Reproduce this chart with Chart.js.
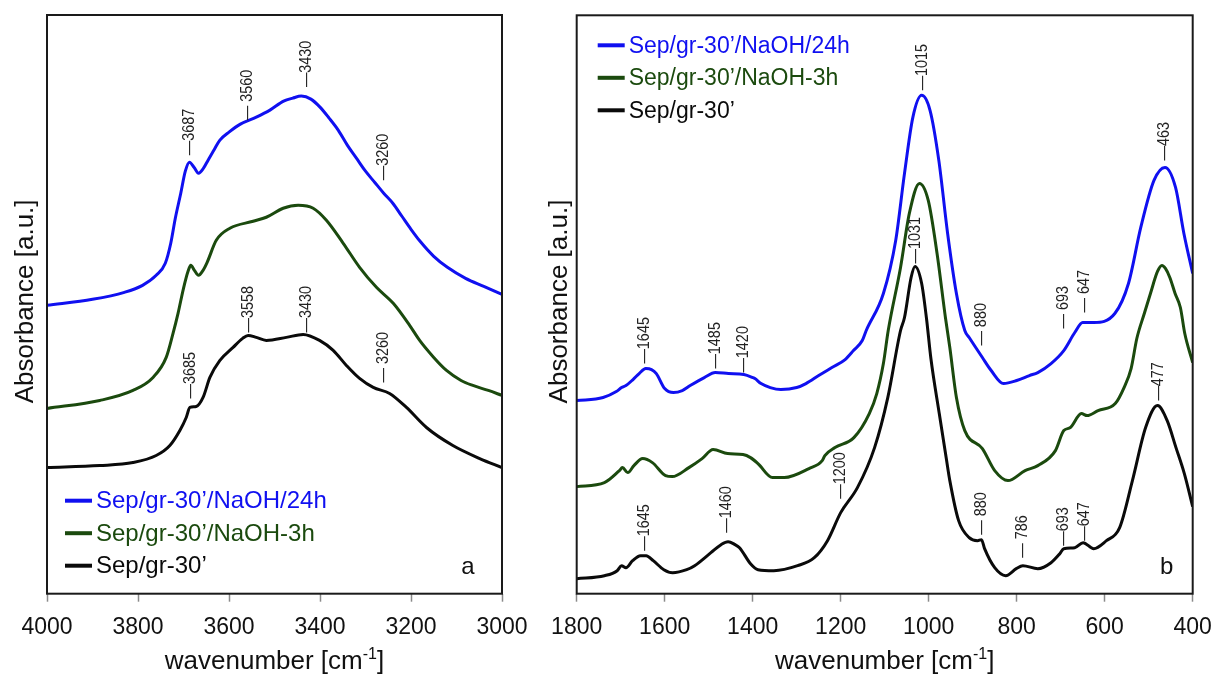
<!DOCTYPE html>
<html>
<head>
<meta charset="utf-8">
<script src="https://cdn.jsdelivr.net/npm/chart.js@4.4.1/dist/chart.umd.min.js"></script>
<style>
  body { margin: 0; background: #fff; overflow: hidden; }
  #wrap { position: relative; width: 1214px; height: 675px; }
  .panel { position: absolute; top: 0; height: 675px; }
</style>
</head>
<body>
<div id="wrap">
  <div class="panel" style="left:0;width:540px"><canvas id="chartA"></canvas></div>
  <div class="panel" style="left:540px;width:674px"><canvas id="chartB"></canvas></div>
</div>
<script>
// FTIR spectra, [wavenumber, absorbance (a.u., offset for stacking)]
// panel a: OH stretching region
const ohNaOH24h = [[4000,28.8],[3900,29.4],[3830,30.1],[3790,30.8],[3760,31.8],[3740,33.0],[3728,35.0],[3718,37.5],[3706,40.0],[3696,42.2],[3687,43.1],[3677,42.6],[3667,42.0],[3656,42.5],[3646,43.3],[3632,44.4],[3620,45.3],[3600,46.1],[3575,46.9],[3540,47.6],[3510,48.3],[3480,49.2],[3460,49.5],[3441,49.7],[3420,49.4],[3400,48.6],[3380,47.5],[3360,46.3],[3340,44.8],[3320,43.5],[3300,42.2],[3280,41.1],[3260,40.0],[3240,39.0],[3220,37.7],[3200,36.4],[3180,35.2],[3150,33.7],[3120,32.6],[3080,31.5],[3040,30.7],[3000,29.9]];
const ohNaOH3h = [[4000,18.5],[3884,19.3],[3811,20.3],[3767,21.6],[3738,23.6],[3723,26.0],[3712,28.0],[3700,30.5],[3690,32.2],[3684,32.8],[3676,32.3],[3667,31.8],[3657,32.3],[3648,33.1],[3628,35.3],[3598,36.5],[3547,37.2],[3518,37.6],[3481,38.5],[3448,38.8],[3415,38.5],[3386,37.3],[3349,35.0],[3313,32.6],[3276,30.6],[3239,29.0],[3203,26.8],[3181,25.3],[3150,23.6],[3122,22.3],[3090,21.3],[3064,20.8],[3030,20.3],[3000,19.8]];
const ohSepGr = [[4000,12.6],[3884,12.8],[3811,13.1],[3760,13.8],[3730,14.8],[3708,16.3],[3694,17.6],[3686,18.6],[3672,18.7],[3657,19.6],[3642,21.6],[3620,23.3],[3591,24.6],[3570,25.5],[3558,25.8],[3540,25.6],[3518,25.3],[3474,25.6],[3437,25.9],[3401,25.3],[3371,24.3],[3342,22.8],[3313,21.5],[3283,20.6],[3247,20.0],[3210,18.6],[3166,16.6],[3108,14.8],[3049,13.5],[3000,12.6]];

// panel b: 1800-400 region
const fpNaOH24h = [[1800,19.3],[1740,19.6],[1710,20.2],[1698,20.6],[1688,20.8],[1672,21.4],[1658,22.0],[1643,22.5],[1630,22.4],[1619,22.0],[1600,20.5],[1580,20.1],[1560,20.3],[1542,20.8],[1510,21.6],[1485,22.1],[1455,22.0],[1420,21.9],[1400,21.6],[1395,21.5],[1381,21.0],[1360,20.6],[1336,20.4],[1300,20.6],[1279,21.0],[1250,21.8],[1220,22.6],[1190,23.4],[1171,24.3],[1151,25.3],[1142,26.3],[1103,30.0],[1075,35.3],[1055,42.0],[1036,47.6],[1016,49.8],[997,48.3],[977,43.3],[957,36.0],[937,30.0],[918,26.3],[908,25.6],[878,23.6],[858,22.3],[830,21.0],[800,21.3],[771,21.8],[752,22.1],[722,23.0],[693,24.3],[668,26.1],[650,27.1],[625,27.1],[577,28.0],[546,31.0],[518,36.6],[488,41.3],[463,42.6],[439,40.6],[420,36.0],[400,32.0]];
const fpNaOH3h = [[1800,10.7],[1737,11.1],[1703,12.3],[1696,12.6],[1684,12.1],[1670,12.8],[1650,13.5],[1628,13.1],[1598,11.8],[1583,11.7],[1545,12.6],[1515,13.5],[1490,14.4],[1457,14.0],[1422,13.9],[1405,13.6],[1388,13.0],[1355,11.6],[1328,11.6],[1272,12.5],[1242,13.3],[1236,13.8],[1213,14.6],[1170,15.6],[1135,18.0],[1118,20.0],[1103,23.0],[1092,26.3],[1064,32.6],[1044,38.0],[1021,41.0],[1001,39.3],[981,34.0],[962,27.6],[952,24.6],[937,19.6],[918,16.3],[878,14.5],[850,12.3],[820,11.3],[781,12.3],[752,12.8],[712,14.3],[693,16.3],[678,16.6],[653,18.0],[640,17.8],[615,18.3],[576,19.0],[556,20.6],[540,22.5],[527,25.5],[510,28.0],[496,30.0],[480,32.2],[470,32.8],[462,32.5],[452,31.6],[440,30.0],[428,28.6],[418,26.0],[400,23.1]];
const fpSepGr = [[1800,1.5],[1737,1.8],[1708,2.3],[1698,2.8],[1688,2.6],[1673,3.3],[1655,3.8],[1642,3.8],[1626,3.3],[1602,2.4],[1582,2.1],[1550,2.4],[1532,2.8],[1495,4.1],[1472,4.9],[1456,5.2],[1440,4.9],[1430,4.6],[1405,3.0],[1388,2.4],[1352,2.3],[1298,2.8],[1260,3.6],[1230,5.3],[1200,8.1],[1162,10.6],[1123,14.6],[1093,19.6],[1064,26.3],[1055,27.6],[1040,31.6],[1031,32.7],[1016,31.0],[1005,27.5],[995,23.5],[976,18.0],[960,13.5],[952,11.3],[932,7.3],[908,5.6],[889,5.3],[880,5.4],[873,4.5],[850,2.6],[825,1.8],[801,2.5],[786,2.8],[752,2.5],[722,3.1],[702,4.0],[693,4.5],[668,4.6],[649,5.1],[625,4.5],[596,5.3],[566,6.6],[537,11.3],[507,16.6],[480,18.8],[458,17.3],[438,14.6],[419,12.0],[400,8.7]];

// band labels: [wavenumber, label level, space after dash]
const bandsA24h = [[3687,43.8,0],[3560,47.3,1],[3430,50.6,0],[3260,41.3,0]];
const bandsASep = [[3685,19.5,0],[3558,26.1,0],[3430,26.1,0],[3260,21.1,1]];
const bandsB24h = [[1645,23.0,0],[1485,22.5,0],[1420,22.1,0],[1015,50.3,0],[880,24.8,1],[693,26.5,1],[647,28.1,1],[463,43.3,0]];
const bandsBSep = [[1645,4.3,0],[1460,6.1,0],[1200,9.5,0],[1031,33.0,0],[880,5.9,1],[786,3.6,1],[693,4.8,0],[647,5.3,0],[477,19.3,0]];

const sampleNames = ["Sep/gr-30’/NaOH/24h", "Sep/gr-30’/NaOH-3h", "Sep/gr-30’"];
const sampleColors = ["#1010f0", "#1b4a0e", "#0a0a0a"];
const ticksA = [4000, 3800, 3600, 3400, 3200, 3000];
const ticksB = [1800, 1600, 1400, 1200, 1000, 800, 600, 400];

const FONT = '"Liberation Sans", Arial, sans-serif';

function drawDecor(chart, p) {
  const ctx = chart.ctx, a = chart.chartArea;
  const xs = chart.scales.x, ys = chart.scales.y;
  ctx.save();

  // frame round the plot
  ctx.strokeStyle = "#1a1a1a";
  ctx.lineWidth = 2;
  ctx.strokeRect(a.left, a.top, a.right - a.left, a.bottom - a.top);

  // rotated band positions
  ctx.fillStyle = "#222";
  ctx.font = "16px " + FONT;
  ctx.textAlign = "left";
  ctx.textBaseline = "alphabetic";
  p.bands.forEach(list => list.forEach(([wn, lvl, gap]) => {
    ctx.save();
    ctx.translate(xs.getPixelForValue(wn), ys.getPixelForValue(lvl));
    ctx.rotate(-Math.PI / 2);
    ctx.scale(0.9, 1);
    ctx.fillText("—" + (gap ? " " : "") + wn, 0, 4.5);
    ctx.restore();
  }));

  // legend
  ctx.font = p.legend.size + "px " + FONT;
  ctx.textBaseline = "middle";
  sampleNames.forEach((name, i) => {
    const x = a.left + p.legend.dx;
    const y = p.legend.top ? a.top + p.legend.dy + i * 32.5 : a.bottom - p.legend.dy + i * 32.5;
    ctx.strokeStyle = sampleColors[i];
    ctx.lineWidth = 4;
    ctx.beginPath();
    ctx.moveTo(x, y);
    ctx.lineTo(x + 27, y);
    ctx.stroke();
    ctx.fillStyle = sampleColors[i];
    ctx.fillText(name, x + 31, y + 1);
  });

  // panel letter
  ctx.fillStyle = "#111";
  ctx.font = "24px " + FONT;
  ctx.textAlign = "center";
  ctx.textBaseline = "alphabetic";
  ctx.fillText(p.letter, a.right - p.letterDx, a.bottom - 20);

  // x title with superscript
  const cx = (a.left + a.right) / 2, by = 669;
  ctx.font = "26px " + FONT;
  const w1 = ctx.measureText("wavenumber [cm").width;
  const w3 = ctx.measureText("]").width;
  ctx.font = "16px " + FONT;
  const w2 = ctx.measureText("-1").width;
  let x0 = cx - (w1 + w2 + w3) / 2;
  ctx.textAlign = "left";
  ctx.font = "26px " + FONT;
  ctx.fillText("wavenumber [cm", x0, by);
  ctx.font = "16px " + FONT;
  ctx.fillText("-1", x0 + w1, by - 10);
  ctx.font = "26px " + FONT;
  ctx.fillText("]", x0 + w1 + w2, by);

  // y title
  ctx.save();
  ctx.translate(p.yTitleX, (a.top + a.bottom) / 2 - 3);
  ctx.rotate(-Math.PI / 2);
  ctx.textAlign = "center";
  ctx.fillText("Absorbance [a.u.]", 0, 0);
  ctx.restore();

  ctx.restore();
}

function buildChart(canvasId, p) {
  const datasets = p.series.map((data, i) => ({
    label: sampleNames[i],
    data: data.map(([x, y]) => ({ x, y })),
    borderColor: sampleColors[i],
    borderWidth: 3,
    pointRadius: 0,
    fill: false,
    cubicInterpolationMode: "monotone",
  }));
  return new Chart(document.getElementById(canvasId).getContext("2d"), {
    type: "line",
    data: { datasets },
    options: {
      responsive: true,
      maintainAspectRatio: false,
      animation: false,
      devicePixelRatio: 1,
      events: [],
      layout: { padding: p.padding },
      plugins: { legend: { display: false }, tooltip: { enabled: false } },
      scales: {
        x: {
          type: "linear",
          reverse: true,
          min: p.ticks[p.ticks.length - 1],
          max: p.ticks[0],
          afterBuildTicks: (s) => { s.ticks = p.ticks.map(v => ({ value: v })); },
          // edge labels may hang past the frame, no extra side room needed
          afterFit: (s) => { s.paddingLeft = 0; s.paddingRight = 0; },
          ticks: { font: { size: 23, family: FONT }, color: "#111", padding: 12, maxRotation: 0, callback: (v) => String(v) },
          grid: { drawOnChartArea: false, drawTicks: true, tickLength: 8, tickColor: "#8a8a8a", tickWidth: 1.5 },
          border: { display: false },
        },
        y: { display: false, min: 0, max: 57.8 },
      },
    },
    plugins: [{ id: "decor", afterDatasetsDraw: (chart) => drawDecor(chart, p) }],
  });
}

buildChart("chartA", {
  series: [ohNaOH24h, ohNaOH3h, ohSepGr],
  bands: [bandsA24h, bandsASep],
  ticks: ticksA,
  padding: { left: 47, right: 38, top: 15, bottom: 21.7 },
  legend: { size: 24, dx: 18, dy: 93, top: false },
  letter: "a",
  letterDx: 34,
  yTitleX: 33,
});

buildChart("chartB", {
  series: [fpNaOH24h, fpNaOH3h, fpSepGr],
  bands: [bandsB24h, bandsBSep],
  ticks: ticksB,
  padding: { left: 36.7, right: 21.3, top: 15.3, bottom: 21.7 },
  legend: { size: 23, dx: 21, dy: 30, top: true },
  letter: "b",
  letterDx: 26,
  yTitleX: 27,
});
</script>
</body>
</html>
